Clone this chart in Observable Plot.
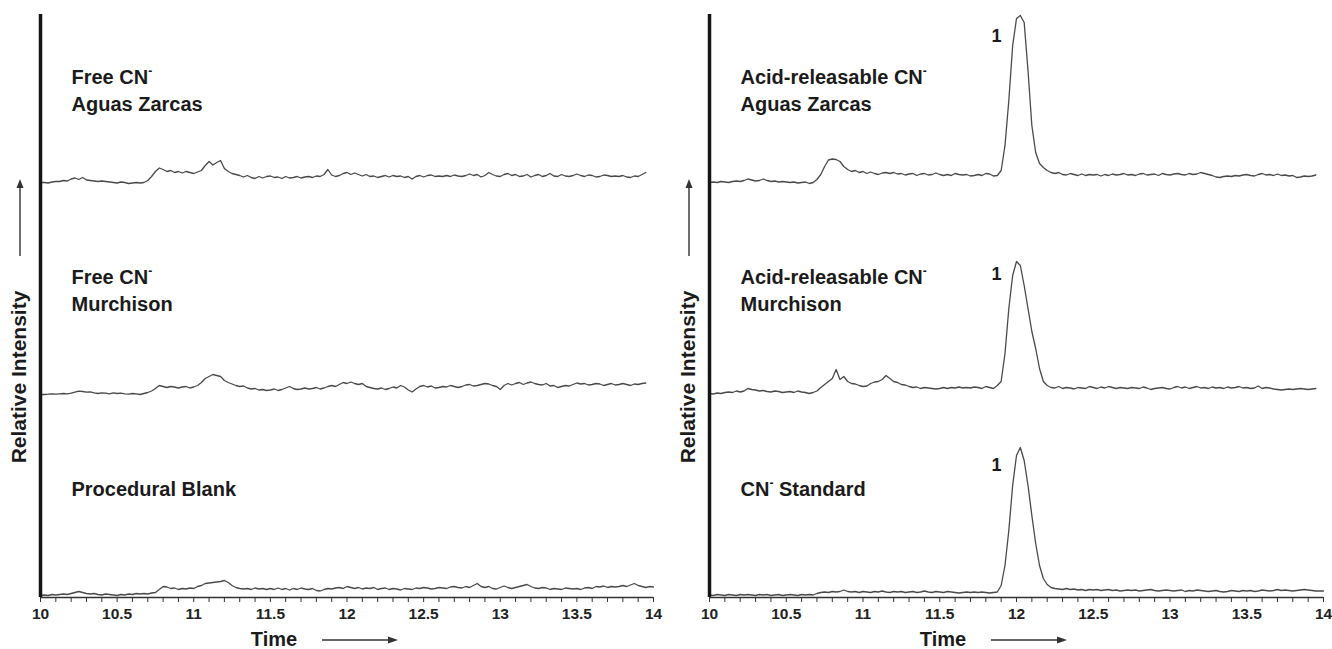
<!DOCTYPE html>
<html><head><meta charset="utf-8">
<script src="https://cdn.jsdelivr.net/npm/d3@7"></script>
<script src="https://cdn.jsdelivr.net/npm/@observablehq/plot@0.6"></script>
<style>
body{margin:0;background:#fff;}
#wrap{display:flex;width:1332px;height:649px;overflow:hidden;}
</style></head><body><div id="wrap"></div>
<script>
// Time grid: first sample 10.000 min, one sample every 0.025 min
const T0 = 10, DT = 0.025;
const xTickLabels = ["10","10.5","11","11.5","12","12.5","13","13.5","14"];

// Free CN- Aguas Zarcas (relative to its own baseline)
const freeAguasZarcas = [
 0,0,-0.5,0.5,1,1,2,1.5,3.5,4.5,
 3,5,2.5,2,1.5,1,1.5,1,0.5,0,
 -0.5,0.5,0,-1,-0.5,0,-0.5,0,2,6,
 11,14.5,13,11,12,10,11,9.5,11,10,
 9,10.5,12,17,21,17.5,20,22,14,11,
 9,8,7,5.5,7,5,4,6,4.5,6,
 6.5,5,5.5,4,6,4.5,5,6,4.5,5.5,
 6,5,6.5,6,8,13,7.5,6,7,9,
 10,8,9.5,8,6.5,8,6,6.5,5,6,
 7,5.5,7,6,6.5,5,6,3.5,6,7,
 5.5,7,7.5,6,6.5,6,7,6,7.5,6.5,
 6,7,8.5,7,8,5.5,7,10,8,6.5,
 6,8,9,7,8,6,6.5,8,5.5,7,
 8,6,7,9,6.5,6,8,6.5,6,7,
 8.5,7,6,7.5,7,5.5,6,7.5,7,6,
 6.5,6,7,5.5,5,6.5,6,8,10];
// Free CN- Murchison
const freeMurchison = [
 0,0,0.3,0.7,0.3,0.7,1,0.7,1.3,2.3,
 3.3,3,2.3,2.7,1.7,1,1.7,1.3,0.7,1.7,
 1,1.3,0.7,0.3,1,0.7,0,1,2,3.5,
 6,9,8,7,8,7.5,6.5,7.5,8,6.5,
 7.5,9,12,16,18,20,19,18,14,12,
 10.5,9,8,8.5,6.5,5.5,6,4.5,5,4,
 4.5,5.5,4,5,6.5,8,6,5,5.5,6.5,
 5.5,6,7,5.5,6.5,8,9,8,10,12,
 11,12.5,11,10,11,8,7,6,5.5,6.5,
 5,6,7.5,6.5,9,7.5,4.5,2.5,5.5,8,
 9,7.5,8.5,6.5,7,8,7.5,9,8,7,
 8,9.5,10,8.5,9,10,11,10.5,9,8,
 5,9,11,9.5,11,12,10,11.5,12.5,11,
 10,9.5,11,8.5,9,7,8,9,8.5,10,
 11.5,10.5,11,9.5,10,11,10.5,9,10,11,
 9.5,10,11,10,9,10.5,10,11,11.5];
// Procedural Blank
const proceduralBlank = [
 0,0.5,0,1,0.5,1,1.5,1,2,3,
 4,3,2,1.5,2,1,0.5,1.5,1,0.5,
 0,1,0.5,1.5,1,2,1.5,2,1.5,2.5,
 3,6,9,8.5,7,7.5,6,7,6.5,7.5,
 7,9,10,12,12.5,13,13.5,14,15,13,
 10,8,7,6.5,7,6,7.5,6.5,7,6,
 7,6,7.5,6,7,5.5,7,6,7.5,6.5,
 6,7,5,4.5,6,7,6.5,7.5,8,7,
 9,8,7,8,6.5,7.5,7,8,6,7,
 7.5,6,7,6.5,5.5,7,6.5,6,7.5,7,
 8,7.5,6.5,7,8,7.5,7,8.5,9,8,
 7.5,9,8,10,12,9,8,9,7,6.5,
 8,9.5,8,7,8,9,10,11,9,7.5,
 7,8,7.5,6,7,6.5,6,7.5,7,6.5,
 7,6,7.5,8,7,9,8.5,9.5,8,9,
 8.5,9,10,9,10.5,12,10,9,8,9,8.5];
// Acid-releasable CN- Aguas Zarcas
const acidAguasZarcas = [
 0,0.5,0,1,0.5,0,1,1.5,1,2,
 3.5,2.5,1.5,2,3.5,2,1,1.5,0.5,1,
 0.5,0,0.5,-0.5,0,0.5,-1,0,3,8,
 16,22.5,23.5,23,21,16,13,11,12,10,
 11,9,10.5,9,8,9.5,10,9,10,8.5,
 9,7.5,8.5,9,7,8.5,9,7.5,8,9.5,
 8,7,8,7,9,8,7.5,8,6.5,7,
 8,7,9,8.5,6.5,7,12,37,82,137,
 164,167,160,112,57,30,19,15,12,10,
 9,10,8,7.5,9,8,7,8.5,7,8,
 7.5,8,6.5,8,7,8.5,7.5,8,9,7.5,
 8,7,8.5,9,7.5,8,8.5,7,9,8,
 7.5,8.5,9,8,7.5,9,8,8.5,10,9,
 8,7,5.5,5,6,6.5,6,7,6.5,7.5,
 8,7,6.5,8,9,7.5,8,7,8.5,7,
 7.5,6.5,7,5,5.5,6.5,6,6.5,7.5];
// Acid-releasable CN- Murchison
const acidMurchison = [
 0,-0.5,0.5,0,1,1.5,1,2.5,1.5,2.5,
 5,4,3.5,2.5,3,2,1.5,2.5,2,1,
 1.5,2,1,2.5,1.5,1,0,1,2.5,6,
 9,12,15,24,14,17,12,10,9.5,8,
 7,7.5,10,11.5,12,14,18,15,12,11,
 9,8.5,7,6,6.5,5,6,5.5,5,4.5,
 5,6,5,6,5.5,6.5,5.5,6,5.5,6.5,
 6,5,7,6,5,8,12,40,85,118,
 132,128,108,85,62,45,25,12,8,6,
 5.5,7,5,6,5.5,4.5,6,5.5,5,7,
 6,5,6.5,5.5,7,6,5,6,5.5,5,
 6,5.5,5,6.5,5.5,4,5,5.5,6,5,
 4.5,6,7,5.5,6.5,5,6,7,5.5,6,
 5,6.5,5.5,6,5,6.5,5.5,6,7,5.5,
 6,5,5.5,7.5,5,6,5.5,4.5,4,3.5,
 4,4.5,4,4.5,5,4.5,4,4.5,5];
// CN- Standard
const cnStandard = [
 0.5,0,1,0.5,0,1,0.5,0,1,0.5,
 1,0.5,0,1,0.5,1,0,0.5,1,0,
 0.5,1,0.5,0,1,0.5,1,0.5,2,3,
 3.5,3,4,3.5,4,5.5,4,3.5,4,3,
 4,3.5,3,4,3.5,4.5,3.5,3,4,3.5,
 4,3,3.5,4,3,3.5,4.5,3.5,3,4,
 3.5,3,4,3.5,3,2.5,3,3.5,3,3.5,
 3,3.5,3,2.5,3,3.5,10,30,65,110,
 140,148,135,110,80,52,30,17,11,8,
 7,6.5,6,7,6,6.5,5.5,6,5,6,
 5.5,6,5,5.5,6,5,5.5,4.5,5,5.5,
 5,5.5,4.5,5,5.5,6,5,4.5,5,5.5,
 5,4.5,5,5.5,4,5,4.5,5.5,5,4.5,
 4,4.5,5,4,3.5,4,5,4.5,4,5,
 4.5,5,4,4.5,5.5,5,4.5,5,6,5,
 5.5,5,4.5,5,5.5,6,5.5,5,4.5,4.5,4.5];

// stacking offsets of each trace (intensity units)
const leftTraces  = [freeAguasZarcas, freeMurchison, proceduralBlank];
const leftOffsets = [415, 203, 2];
const rightTraces  = [acidAguasZarcas, acidMurchison, cnStandard];
const rightOffsets = [415, 204, 2];

const leftLabels  = ["Free CN⁻\nAguas Zarcas", "Free CN⁻\nMurchison", "Procedural Blank"];
const rightLabels = ["Acid-releasable CN⁻\nAguas Zarcas", "Acid-releasable CN⁻\nMurchison", "CN⁻ Standard"];
const peakLabels  = ["1", "1", "1"];

const FONT = "'Liberation Sans', Arial, Helvetica, sans-serif";
const labelTops = [51, 251, 463];   // frame-relative cap tops
const peakTops  = [15, 253, 444];

function rowsOf(traces, offsets) {
  const rows = [];
  traces.forEach((vals, k) => vals.forEach((v, i) =>
    rows.push({t: T0 + i * DT, y: offsets[k] + v, s: k})));
  return rows;
}

function panel({traces, offsets, labels, peaks, mL, mR}) {
  const minor = d3.range(41).map(i => 10 + i / 10);
  const marks = [
    Plot.lineY(rowsOf(traces, offsets), {x: "t", y: "y", z: "s", stroke: "#4a4a4a", strokeWidth: 1.3, curve: "linear"}),
    Plot.ruleY([0], {stroke: "#333", strokeWidth: 1.3}),
    Plot.axisX({ticks: minor, tickSize: 5, tickPadding: 5, stroke: "#333",
      tickFormat: d => { const k = Math.round(d * 10); return k % 5 === 0 ? xTickLabels[(k - 100) / 5] : ""; },
      fontSize: 15.5, fontWeight: "bold", fill: "#222", label: null}),
    Plot.ruleX([10], {stroke: "#151515", strokeWidth: 3.5}),
  ];
  labels.forEach((txt, k) => marks.push(Plot.text([txt], {
    frameAnchor: "top-left", dx: 31, dy: labelTops[k], lineAnchor: "top", textAnchor: "start",
    lineHeight: 1.32, fontSize: 20, fontWeight: "bold", fill: "#1b1b1b", fontFamily: FONT})));
  if (peaks) peaks.forEach((txt, k) => marks.push(Plot.text([txt], {
    frameAnchor: "top-left", dx: 287, dy: peakTops[k], lineAnchor: "top", textAnchor: "middle",
    fontSize: 18, fontWeight: "bold", fill: "#1b1b1b", fontFamily: FONT})));
  const svg = Plot.plot({
    width: 666, height: 649, marginLeft: mL, marginRight: mR, marginTop: 14, marginBottom: 52,
    x: {domain: [10, 14], axis: null},
    y: {domain: [0, 583], axis: null},
    style: {fontFamily: FONT, background: "white", overflow: "visible"},
    marks
  });
  const s = d3.select(svg);
  // superscript minus
  s.selectAll("text, tspan").each(function() {
    Array.from(this.childNodes).forEach(n => {
      if (n.nodeType === 3 && n.nodeValue.includes("⁻")) {
        const parts = n.nodeValue.split("⁻");
        const frag = [];
        parts.forEach((p, j) => {
          if (j > 0) {
            const ts = document.createElementNS("http://www.w3.org/2000/svg", "tspan");
            ts.setAttribute("font-size", "12");
            ts.setAttribute("baseline-shift", "9px");
            ts.textContent = "-";
            frag.push(ts);
          }
          if (p) frag.push(document.createTextNode(p));
        });
        frag.forEach(f => this.insertBefore(f, n));
        this.removeChild(n);
      }
    });
  });
  // y label + arrow
  const yl = s.append("g");
  yl.append("text").attr("transform", `translate(${mL - 22},377) rotate(-90)`)
    .attr("text-anchor", "middle").attr("dy", "0.36em")
    .attr("font-family", FONT).attr("font-size", 21).attr("font-weight", "bold").attr("fill", "#1b1b1b")
    .text("Relative Intensity");
  yl.append("line").attr("x1", mL - 20).attr("x2", mL - 20).attr("y1", 256).attr("y2", 186)
    .attr("stroke", "#333").attr("stroke-width", 1.4);
  yl.append("path").attr("d", `M${mL-20},179 L${mL-23.5},188 L${mL-16.5},188 Z`).attr("fill", "#333");
  // x label + arrow
  const xl = s.append("g");
  xl.append("text").attr("x", mL + 234).attr("y", 646).attr("text-anchor", "middle")
    .attr("font-family", FONT).attr("font-size", 20).attr("font-weight", "bold").attr("fill", "#1b1b1b")
    .text("Time");
  xl.append("line").attr("x1", mL + 282).attr("x2", mL + 350).attr("y1", 640).attr("y2", 640)
    .attr("stroke", "#333").attr("stroke-width", 1.6);
  xl.append("path").attr("d", `M${mL+358},640 L${mL+348},636.5 L${mL+348},643.5 Z`).attr("fill", "#333");
  return svg;
}

const wrap = document.getElementById("wrap");
wrap.appendChild(panel({traces: leftTraces, offsets: leftOffsets, labels: leftLabels, peaks: null, mL: 40, mR: 13}));
wrap.appendChild(panel({traces: rightTraces, offsets: rightOffsets, labels: rightLabels, peaks: peakLabels, mL: 43, mR: 9}));
</script></body></html>
